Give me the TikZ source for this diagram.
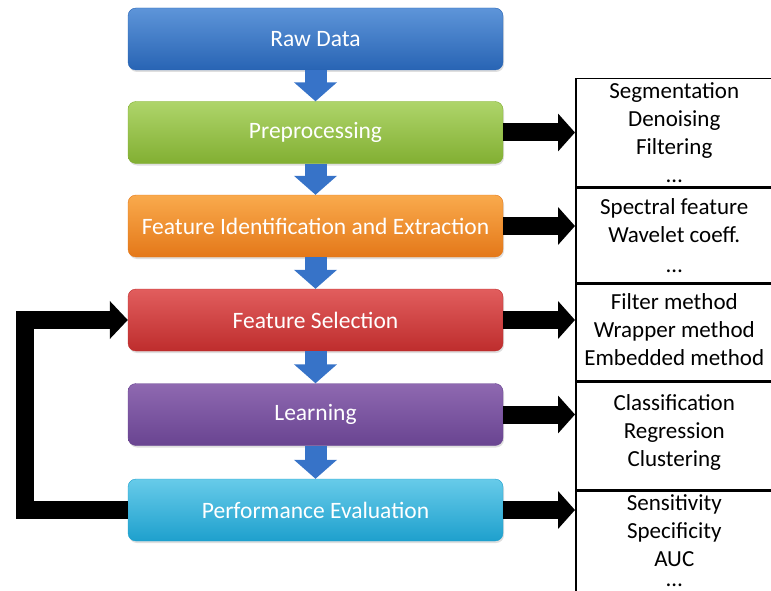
\documentclass[tikz,border=0pt]{standalone}
\usepackage{fontspec}
\setmainfont{Carlito}
\usetikzlibrary{arrows.meta, positioning, shadows}
\definecolor{rawBlue}{RGB}{65, 130, 210}
\definecolor{rawBlueDark}{RGB}{40, 100, 180}
\definecolor{preGreen}{RGB}{160, 205, 80}
\definecolor{preGreenDark}{RGB}{130, 175, 50}
\definecolor{fieOrange}{RGB}{248, 155, 45}
\definecolor{fieOrangeDark}{RGB}{228, 120, 25}
\definecolor{fsRed}{RGB}{220, 65, 65}
\definecolor{fsRedDark}{RGB}{190, 45, 45}
\definecolor{learnPurple}{RGB}{130, 88, 168}
\definecolor{learnPurpleDark}{RGB}{105, 68, 145}
\definecolor{perfCyan}{RGB}{65, 190, 228}
\definecolor{perfCyanDark}{RGB}{30, 160, 205}
\definecolor{flowBlue}{RGB}{55, 115, 200}

\begin{document}
\begin{tikzpicture}[x=1pt, y=1pt,
    stage/.style={rectangle, rounded corners=8pt, minimum width=375pt, minimum height=62pt,
        inner sep=0pt, text=white, font=\fontsize{23.5}{28}\selectfont,
        drop shadow={opacity=0.25, shadow xshift=1pt, shadow yshift=-2pt}},
    cell/.style={rectangle, draw=black, line width=1.5pt, minimum width=197pt, inner sep=0pt},
    list/.style={align=center, inner sep=0pt, font=\fontsize{23}{28}\selectfont},
    flow/.style={-{Triangle[length=19pt, width=42pt]}, line width=22pt, flowBlue},
    result/.style={-{Triangle[length=17pt, width=37pt]}, line width=18pt, black},
    feedback/.style={-{Triangle[length=18pt, width=37pt]}, line width=18pt, black, line join=miter}
]
\useasboundingbox (0,0) rectangle (771,-591);

% processing stages
\node[stage, top color=rawBlue!85!white, bottom color=rawBlueDark, draw=rawBlueDark] (raw) at (315.5,-39) {Raw Data};
\node[stage, top color=preGreen!85!white, bottom color=preGreenDark, draw=preGreenDark] (pre) at (315.5,-132.5) {Preprocessing};
\node[stage, top color=fieOrange!85!white, bottom color=fieOrangeDark, draw=fieOrangeDark] (fie) at (315.5,-226) {Feature Identification and Extraction};
\node[stage, top color=fsRed!85!white, bottom color=fsRedDark, draw=fsRedDark] (fs) at (315.5,-320) {Feature Selection};
\node[stage, top color=learnPurple!90!white, bottom color=learnPurpleDark, draw=learnPurpleDark] (learn) at (315.5,-414.5) {Learning};
\node[stage, top color=perfCyan!80!white, bottom color=perfCyanDark, draw=perfCyanDark] (perf) at (315.5,-510) {Performance Evaluation};

% method table on the right
\node[cell, minimum height=108pt, anchor=north west] (c1) at (575,-78) {};
\node[cell, minimum height=94pt, anchor=north west] (c2) at (c1.south west) {};
\node[cell, minimum height=97pt, anchor=north west] (c3) at (c2.south west) {};
\node[cell, minimum height=107pt, anchor=north west] (c4) at (c3.south west) {};
\node[cell, minimum height=108pt, anchor=north west] (c5) at (c4.south west) {};

\node[list] (l1) at (c1) {Segmentation\\Denoising\\Filtering\\\dots};
\node[list] (l2) at (c2) {Spectral feature\\Wavelet coeff.\\[2pt]\dots};
\node[list] (l3) at ([yshift=3pt]c3.center) {Filter method\\Wrapper method\\Embedded method};
\node[list] (l4) at ([yshift=3pt]c4.center) {Classification\\Regression\\Clustering};
\node[list] (l5) at ([yshift=4.5pt]c5.center) {Sensitivity\\Specificity\\AUC\\[-8pt]\dots};

% main flow
\foreach \a/\b in {raw/pre, pre/fie, fie/fs, fs/learn, learn/perf}
    \draw[flow] (\a.south) -- (\b.north);

% stage outputs
\draw[result] (pre.east) -- (pre.east -| c1.west);
\draw[result] (fie.east) -- (fie.east -| c2.west);
\draw[result] (fs.east) -- (fs.east -| c3.west);
\draw[result] (learn.east) -- (learn.east -| c4.west);
\draw[result] (perf.east) -- (perf.east -| c5.west);

% feedback from evaluation to selection
\coordinate (back) at (25,-510);
\draw[feedback] (perf.west) -- (back) |- (fs.west);

\end{tikzpicture}
\end{document}
